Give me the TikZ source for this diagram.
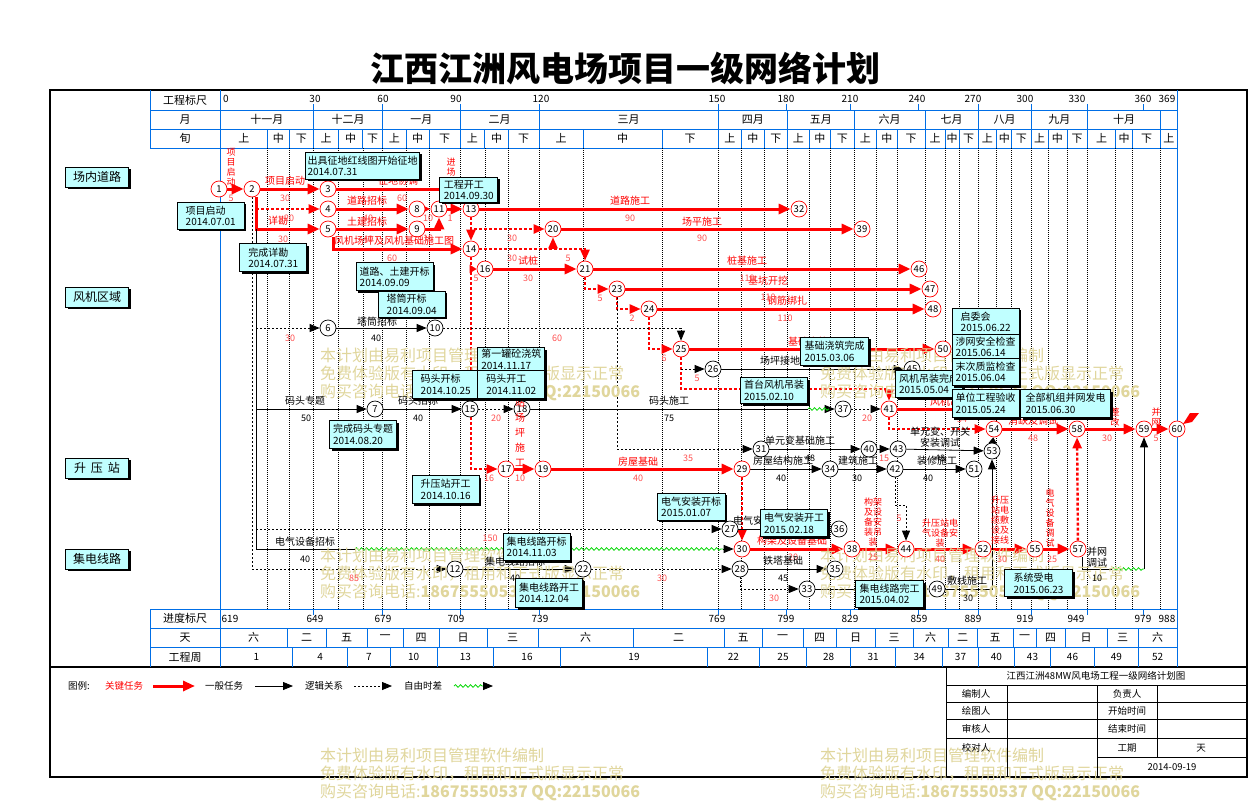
\documentclass[tikz,border=0pt]{standalone}
\usepackage{fontspec}
\setmainfont{Noto Sans CJK SC}
\usetikzlibrary{arrows.meta, decorations.pathmorphing, shadows, calc}
\definecolor{GB}{RGB}{0,110,230}
\definecolor{CR}{RGB}{255,0,0}
\definecolor{NR}{RGB}{255,80,80}
\definecolor{BX}{RGB}{192,255,255}
\definecolor{WM}{RGB}{224,214,156}
\definecolor{FG}{RGB}{0,215,0}
\pgfdeclarelayer{grid}
\pgfdeclarelayer{edges}
\pgfdeclarelayer{mark}
\pgfsetlayers{grid,edges,mark,main}

\begin{document}
\begin{tikzpicture}[x=1pt, y=-1pt,
  evt/.style={circle, draw=black, fill=white, line width=0.7pt, minimum size=16pt,
              inner sep=0pt, font=\fontsize{9.5}{9.5}\selectfont},
  cevt/.style={evt, draw=CR},
  crit/.style={draw=CR, line width=3pt, -{Triangle[length=12pt,width=10pt]}},
  critdot/.style={draw=CR, line width=2.4pt, dash pattern=on 3pt off 2pt,
                  -{Triangle[length=11pt,width=9pt]}},
  plain/.style={draw=black, line width=0.8pt},
  task/.style={plain, -{Triangle[length=10pt,width=8pt]}},
  logic/.style={task, dash pattern=on 2pt off 2pt},
  fflt/.style={draw=FG, line width=0.8pt, decorate,
               decoration={snake, amplitude=1.3pt, segment length=5pt}},
  gline/.style={draw=GB, line width=0.8pt},
  gdot/.style={draw=black, line width=0.6pt, dash pattern=on 1pt off 1pt},
  hd/.style={inner sep=0pt, font=\fontsize{11}{11}\selectfont},
  hn/.style={inner sep=0pt, font=\fontsize{10}{10}\selectfont},
  rl/.style={inner sep=0pt, text=CR, font=\fontsize{10}{10}\selectfont},
  rn/.style={inner sep=0pt, text=NR, font=\fontsize{9}{9}\selectfont},
  bl/.style={inner sep=0pt, align=center, font=\fontsize{10}{11}\selectfont},
  bn/.style={inner sep=0pt, font=\fontsize{9}{9}\selectfont},
  vl/.style={inner sep=0pt, text=CR, align=center, font=\fontsize{9}{10}\selectfont},
  info/.style={draw=black, fill=BX, line width=1pt, anchor=north west, align=left,
               inner sep=2pt, font=\fontsize{10}{11.5}\selectfont,
               drop shadow={shadow xshift=2pt, shadow yshift=-2pt, opacity=1, fill=black}},
  area/.style={draw=black, fill=BX, line width=0.8pt, minimum width=63pt,
               minimum height=20pt, inner sep=0pt, font=\fontsize{12}{12}\selectfont,
               drop shadow={shadow xshift=2pt, shadow yshift=-2pt, opacity=1, fill=black}},
  wmk/.style={text=WM, anchor=north west, align=left, inner sep=0pt,
              font=\fontsize{16}{18}\selectfont},
  tb/.style={inner sep=0pt, font=\fontsize{9.5}{9.5}\selectfont}
]
\useasboundingbox (0,0) rectangle (1249,800);

% title
\node[font=\fontsize{34}{34}\selectfont\bfseries] (title) at (625,68) {江西江洲风电场项目一级网络计划};

% frame and grid
\begin{pgfonlayer}{grid}
\fill[white] (0,0) rectangle (1249,800);
\draw[line width=2pt] (50,90) rectangle (1247,777);
\draw[line width=1.6pt] (50,667) -- (1247,667);
\foreach \y in {110,129,148,609,628,647} \draw[gline] (150,\y) -- (1177,\y);
\draw[gline] (150,90) -- (150,148);
\draw[gline] (150,609) -- (150,667);
\draw[gline] (220,90) -- (220,667);
\draw[gline] (1177,90) -- (1177,667);
\foreach \x in {267.6,289,313.6,338.4,362.8,382.5,406,429,460,484.8,508.4,539,583,662,
  718,741.75,764,787.5,809,830.6,854,876.75,897,925,945,959,978,996.75,1011.75,1031,
  1048,1066.9,1087.5,1115.6,1132.5,1160.6}
  \draw[gdot] (\x,148) -- (\x,609);
\end{pgfonlayer}

% header
\node[hd] (h1) at (185,100) {工程标尺};
\node[hd] (h2) at (185,119.5) {月};
\node[hd] (h3) at (185,138.5) {旬};
\node[hd] (h4) at (185,618.5) {进度标尺};
\node[hd] (h5) at (185,637.5) {天};
\node[hd] (h6) at (185,657) {工程周};

\foreach \x/\lx/\t [count=\i] in {220/226/0, 313.6/315/30, 382.5/383/60, 460/456/90,
  539/541/120, 718/717/150, 786/786/180, 850.5/850/210, 918.75/917/240, 978/973/270,
  1031/1025/300, 1087.5/1077/330, 1143.75/1143/360, 1177/1167/369} {
  \draw[gline] (\x,104) -- (\x,110);
  \node[hn] (s\i) at (\lx,99) {\t};
}
\foreach \x/\lx/\t [count=\i] in {220/230/619, 313.6/315/649, 382.5/383/679, 460/456/709,
  539/540/739, 718/717/769, 786/786/799, 850.5/850/829, 918.75/919/859, 978/973/889,
  1031/1025/919, 1087.5/1076/949, 1143.75/1143/979, 1177/1167/988} {
  \draw[gline] (\x,609) -- (\x,615);
  \node[hn] (p\i) at (\lx,619) {\t};
}
\foreach \a/\b/\t [count=\i] in {220/313.6/十一月, 313.6/382.5/十二月, 382.5/460/一月,
  460/539/二月, 539/718/三月, 718/787.5/四月, 787.5/854/五月, 854/925/六月, 925/978/七月,
  978/1031/八月, 1031/1087.5/九月, 1087.5/1160.6/十月, 1160.6/1177/{}} {
  \draw[gline] (\b,110) -- (\b,129);
  \node[hd] (m\i) at ({(\a+\b)/2},119.5) {\t};
}
\foreach \a/\b/\t [count=\i] in {220/267.6/上, 267.6/289/中, 289/313.6/下, 313.6/338.4/上,
  338.4/362.8/中, 362.8/382.5/下, 382.5/406/上, 406/429/中, 429/460/下, 460/484.8/上,
  484.8/508.4/中, 508.4/539/下, 539/583/上, 583/662/中, 662/718/下, 718/741.75/上,
  741.75/764/中, 764/787.5/下, 787.5/809/上, 809/830.6/中, 830.6/854/下, 854/876.75/上,
  876.75/897/中, 897/925/下, 925/945/上, 945/959/中, 959/978/下, 978/996.75/上,
  996.75/1011.75/中, 1011.75/1031/下, 1031/1048/上, 1048/1066.9/中, 1066.9/1087.5/下,
  1087.5/1115.6/上, 1115.6/1132.5/中, 1132.5/1160.6/下, 1160.6/1177/上} {
  \draw[gline] (\b,129) -- (\b,148);
  \node[hd] (x\i) at ({(\a+\b)/2},138.5) {\t};
}
\foreach \a/\b/\t [count=\i] in {220/287/六, 287/326/二, 326/367/五, 367/403/一, 403/439/四,
  439/487/日, 487/538/三, 538/633/六, 633/724/二, 724/762/五, 762/803/一, 803/836/四,
  836/875/日, 875/913/三, 913/948/六, 948/977/二, 977/1013/五, 1013/1036/一,
  1036/1065/四, 1065/1107/日, 1107/1138/三, 1138/1177/六} {
  \draw[gline] (\b,628) -- (\b,647);
  \node[hd] (d\i) at ({(\a+\b)/2},637.5) {\t};
}
\foreach \a/\b/\t [count=\i] in {220/292.7/1, 292.7/347.7/4, 347.7/390/7, 390/437.3/10,
  437.3/493.3/13, 493.3/560.7/16, 560.7/707.3/19, 707.3/759.3/22, 759.3/806.7/25,
  806.7/850.7/28, 850.7/895.7/31, 895.7/942.7/34, 942.7/978.3/37, 978.3/1014.3/40,
  1014.3/1050.7/43, 1050.7/1094.3/46, 1094.3/1138.3/49, 1138.3/1177/52} {
  \draw[gline] (\b,647) -- (\b,667);
  \node[hn] (w\i) at ({(\a+\b)/2},657) {\t};
}

% area labels
\foreach \y/\t [count=\i] in {177/场内道路, 297/风机区域, 468/{升\hspace{5pt}压\hspace{5pt}站}, 559/集电线路}
  \node[area] (a\i) at (97,\y) {\t};

% events
\foreach \n/\x/\y in {1/219/189, 2/252/189, 3/328/189, 4/328/209, 5/328/229, 8/417/209,
  9/417/229, 11/439/209, 13/471/209, 14/471/249, 16/485/269, 17/506/469, 19/543/469,
  20/553/229, 21/585/269, 23/617/289, 24/649/309, 25/681/349, 29/742/469, 30/742/549,
  32/799/209, 38/852/549, 39/862/229, 41/889/409, 44/906/549, 46/919/269, 47/930/289,
  48/933/309, 50/943/349, 52/983/549, 54/994/429, 55/1035/549, 57/1078/549, 58/1077/429,
  59/1144/429, 60/1177/429}
  \node[cevt] (n\n) at (\x,\y) {\n};
\foreach \n/\x/\y in {6/328/328, 7/375/409, 10/435/328, 12/455/569, 15/470/409, 18/522/409,
  22/583/569, 26/713/369, 27/730/529, 28/740/569, 31/761/449, 33/807/589, 34/830/469,
  35/835/569, 36/839/529, 37/843/409, 40/869/449, 42/895/469, 43/898/449, 45/912/369,
  49/937/589, 51/974/469, 53/992/451}
  \node[evt] (n\n) at (\x,\y) {\n};
\fill[CR] (1183,424) -- (1190,413) -- (1199,413) -- (1192,422) -- cycle;

% activity names
\foreach \x/\y/\t [count=\i] in {285/181/项目启动, 398/181/征地协调, 367/201/道路招标,
  278/221/详勘, 367/222/土建招标, 394/241/风机场坪及风机基础施工图, 630/201/道路施工,
  702/222/场平施工, 528/261/试桩, 747/261/桩基施工, 768/281/基坑开挖, 787/301/钢筋绑扎,
  808/342/基础浇筑, 638/462/房屋基础, 792/541/构架及设备基础, 1033/421/消缺及调试,
  950/402/风机吊装}
  \node[rl] (r\i) at (\x,\y) {\t};
\foreach \x/\y/\t [count=\i] in {231/198/5, 285/198/30, 402/198/60, 289/218/20, 368/218/40,
  428/218/10, 450/218/1, 283/239/30, 368/239/40, 428/238/10, 392/258/60, 630/218/90,
  512/238/30, 702/238/90, 512/258/30, 568/258/5, 476/278/5, 528/278/30, 747/278/110,
  600/298/5, 768/297/110, 632/318/2, 785/318/110, 290/338/30, 557/338/60, 664/358/6,
  697/378/5, 496/418/20, 867/418/20, 962/419/54, 1033/438/48, 1107/438/30, 1156/438/5,
  884/458/15, 688/458/35, 489/478/16, 520/478/10, 638/478/40, 490/538/150, 793/557/20,
  873/557/25, 940/559/40, 1002/559/30, 1052/559/25, 354/578/85, 662/578/30, 774/598/30,
  899/518/5}
  \node[rn] (q\i) at (\x,\y) {\t};
\foreach \x/\y/\t [count=\i] in {377/322/塔筒招标, 305/401/码头专题, 418/401/码头招标,
  669/401/码头施工, 305/542/电气设备招标, 515/562/集电线路招标, 783/561/铁塔基础,
  783/461/房屋结构施工, 800/441/单元变基础施工, 858/461/建筑施工, 937/461/装修施工,
  940/437/{单元变、开关\\安装调试}, 967/581/敷线施工, 1097/557/{并网\\调试},
  790/361/场坪接地施工, 753/521/电气安装}
  \node[bl] (k\i) at (\x,\y) {\t};
\foreach \x/\y/\t [count=\i] in {376/338/40, 306/418/50, 418/418/40, 669/418/75,
  305/559/40, 515/578/40, 783/578/45, 781/478/40, 810/458/48, 857/478/30, 928/478/40,
  940/458/48, 968/598/30, 1097/578/10}
  \node[bn] (u\i) at (\x,\y) {\t};
\foreach \x/\y/\t [count=\i] in {231/167/{项\\目\\启\\动}, 451/167/{进\\场},
  873/522/{构架\\及设\\备安\\装吊\\装}, 940/533/{升压站电\\气设备安\\装},
  1000/520/{升压\\站电\\缆敷\\设及\\接线}, 1050/518/{电\\气\\设\\备\\调\\试},
  1115/417/{整\\改}, 1156/417/{并\\网}}
  \node[vl] (v\i) at (\x,\y) {\t};
\node[vl, font=\fontsize{10}{15}\selectfont] (v9) at (520,417) {升\\压\\站\\场\\坪\\施\\工};

% milestone boxes
\foreach \x/\y/\w/\h/\t/\d [count=\i] in {
  176.7/201.7/67/27/项目启动/2014.07.01,
  305/151.7/114/27/出具征地红线图开始征地/2014.07.31,
  439.3/176.7/58/25/工程开工/2014.09.30,
  239.3/243.3/67/28/完成详勘/2014.07.31,
  355.7/262.3/77/28/道路、土建开标/2014.09.09,
  377.7/290.7/67/26/塔筒开标/2014.09.04,
  411.7/370/67/28/码头开标/2014.10.25,
  329/420/67/28/完成码头专题/2014.08.20,
  411.7/475/67/28/升压站开工/2014.10.16,
  477.3/347/67/23/第一罐砼浇筑/2014.11.17,
  477.3/370/67/28/码头开工/2014.11.02,
  740/377/67/26/首台风机吊装/2015.02.10,
  800/336.7/68/28/基础浇筑完成/2015.03.06,
  895/370/67/27/风机吊装完成/2015.05.04,
  951.7/307.7/67/27/启委会/2015.06.22,
  951.7/334/67/24/涉网安全检查/2015.06.14,
  951.7/358/67/27/末次质监检查/2015.06.04,
  951.7/389/67/28/单位工程验收/2015.05.24,
  1020/389/90/28/全部机组并网发电/2015.06.30,
  656.7/492.7/68/27/电气安装开标/2015.01.07,
  760/509.3/67/27/电气安装开工/2015.02.18,
  502.7/533/67/27/集电线路开标/2014.11.03,
  515/578/67/29/集电线路开工/2014.12.04,
  855/580/68/27/集电线路完工/2015.04.02,
  1004/569.3/68/27/系统受电/2015.06.23}
  \node[info, minimum width=\w, minimum height=\h] (b\i) at (\x,\y) {\t\\\d};

% connectors
\coordinate (j2) at (256,229);
\coordinate (j5) at (333,249);
\coordinate (f1) at (355,549);
\coordinate (f2) at (723,549);
\coordinate (g1) at (808,409);
\coordinate (g2) at (829,409);
\coordinate (c41) at (889,389);
\coordinate (c44) at (906,505);
\coordinate (c59a) at (1112,569);
\coordinate (c59b) at (1144,569);
\begin{pgfonlayer}{edges}
% key tasks
\draw[crit] (n1) -- (n2);
\draw[crit] (n2) -- (n3);
\draw[crit] (n2.south -| j2) |- (n5);
\draw[crit] (n3) -| (n13);
\draw[crit] (n4) -- (n8);
\draw[crit] (n5) -- (n9);
\draw[crit] (n8) -- (n11);
\draw[crit] (n9) -| (n11);
\draw[crit] (n11) -- (n13);
\draw[crit] (n5.south -| j5) |- (n14);
\draw[crit] (n13) -- (n32);
\draw[crit] (n20) -- (n39);
\draw[crit] (n16) -- (n21);
\draw[crit] (n21) -- (n46);
\draw[crit] (n23) -- (n47);
\draw[crit] (n24) -- (n48);
\draw[crit] (n25) -- (n50);
\draw[crit] (n41) -| (n54);
\draw[crit] (n54) -- (n58);
\draw[crit] (n58) -- (n59);
\draw[crit] (n59) -- (n60);
\draw[crit] (n17) -- (n19);
\draw[crit] (n19) -- (n29);
\draw[crit] (n30) -- (n38);
\draw[crit] (n38) -- (n44);
\draw[crit] (n44) -- (n52);
\draw[crit] (n52) -- (n55);
\draw[crit] (n55) -- (n57);
% key logic
\draw[critdot] (j2 |- n4) -- (n4);
\draw[critdot] (n13) |- (n20);
\draw[critdot] (n13) -- (n14);
\draw[critdot] (n14) |- (n17);
\draw[critdot, -{Triangle[length=7pt,width=8pt]}] (n14.south |- n16) -- (n16);
\draw[critdot] (n14) -| (n21);
\draw[critdot] (n14 -| n20) -- (n20);
\draw[critdot] (n21) |- (n23);
\draw[critdot] (n23) |- (n24);
\draw[critdot] (n24) |- (n25);
\draw[critdot] (n25) |- (c41) -- (n41);
\draw[critdot] (n41) |- (n54);
\draw[critdot] (n29) -- (n30);
\draw[critdot] (n57) -- (n58);
% general tasks
\draw[plain] (j2) |- (f1);
\draw[task] (j2 |- n7) -- (n7);
\draw[task] (n7) -- (n15);
\draw[plain] (n18) -- (g1);
\draw[task] (g2) -- (n37);
\draw[task] (n6) -- (n10);
\draw[task] (n12) -- (n22);
\draw[task] (n28) -- (n35);
\draw[task] (n33) -- (n49);
\draw[task] (n27) -- (n36);
\draw[task] (n26) -- (n45);
\draw[task] (n29) -- (n34);
\draw[task] (n31) -- (n40);
\draw[task] (n34) -- (n42);
\draw[task] (n40) -- (n43);
\draw[task] (n42) -- (n51);
\draw[task] (n43) -- (n53);
\draw[task] (n49) -| (n53);
\draw[task, -{Triangle[length=6pt,width=8pt]}] (n53) -- (n54);
\draw[plain] ([xshift=4pt]n57.south) |- (c59a);
\draw[task] (c59b) -- (n59);
\draw[task] (f2) -- (n30);
% logic links
\draw[logic] (n2) |- (n12);
\draw[logic] (j2 |- n6) -- (n6);
\draw[logic] (j2 |- n27) -- (n27);
\draw[logic] (n10) -| (n25);
\draw[logic] (n15) -- (n18);
\draw[logic] (n22) -- (n28);
\draw[logic] (n28) |- (n33);
\draw[logic] (n23) |- (n31);
\draw[logic] (n37) -- (n41);
\draw[logic] (n25 |- n26) -- (n26);
\draw[logic] (n42) |- (c44) -- (n44);
% free float
\draw[fflt] (f1) -- (f2);
\draw[fflt] (g1) -- (g2);
\draw[fflt] (c59a) -- (c59b);
\end{pgfonlayer}

% watermark
\begin{pgfonlayer}{mark}
\foreach \x/\y [count=\i] in {320/348, 820/348, 320/548, 820/548, 320/748, 820/748}
  \node[wmk] (wm\i) at (\x,\y) {本计划由易利项目管理软件编制\\免费体验版有水印，租用和正式版显示正常\\购买咨询电话:\textbf{18675550537 QQ:22150066}};
\end{pgfonlayer}

% legend
\node[tb] (lg1) at (79,686) {图例:};
\node[tb, text=CR] (lg2) at (124,686) {关键任务};
\node[tb] (lg3) at (224,686) {一般任务};
\node[tb] (lg4) at (324,686) {逻辑关系};
\node[tb] (lg5) at (423,686) {自由时差};
\coordinate (la1) at (153,686); \coordinate (la2) at (195,686);
\coordinate (lb1) at (255,686); \coordinate (lb2) at (293,686);
\coordinate (lc1) at (354,686); \coordinate (lc2) at (392,686);
\coordinate (ld1) at (454,686); \coordinate (ld2) at (484,686); \coordinate (ld3) at (493,686);
\draw[crit] (la1) -- (la2);
\draw[task] (lb1) -- (lb2);
\draw[logic] (lc1) -- (lc2);
\draw[fflt] (ld1) -- (ld2);
\draw[task] (ld2) -- (ld3);

% title block
\draw[line width=0.8pt] (946,667) -- (946,777);
\foreach \y in {685,702,719,738} \draw[line width=0.8pt] (946,\y) -- (1247,\y);
\draw[line width=0.8pt] (1097,757) -- (1247,757);
\draw[line width=0.8pt] (1007,685) -- (1007,777);
\draw[line width=0.8pt] (1097,685) -- (1097,777);
\draw[line width=0.8pt] (1157,685) -- (1157,757);
\node[tb] (tb0) at (1096,676) {江西江洲48MW风电场工程一级网络计划图};
\foreach \y/\l/\r [count=\i] in {693.5/编制人/负责人, 710.5/绘图人/开始时间,
  728.5/审核人/结束时间, 748/校对人/工期}
  { \node[tb] (tl\i) at (976,\y) {\l}; \node[tb] (tr\i) at (1127,\y) {\r}; }
\node[tb] (tb1) at (1201,748) {天};
\node[tb] (tb2) at (1172,767) {2014-09-19};
\end{tikzpicture}
\end{document}
